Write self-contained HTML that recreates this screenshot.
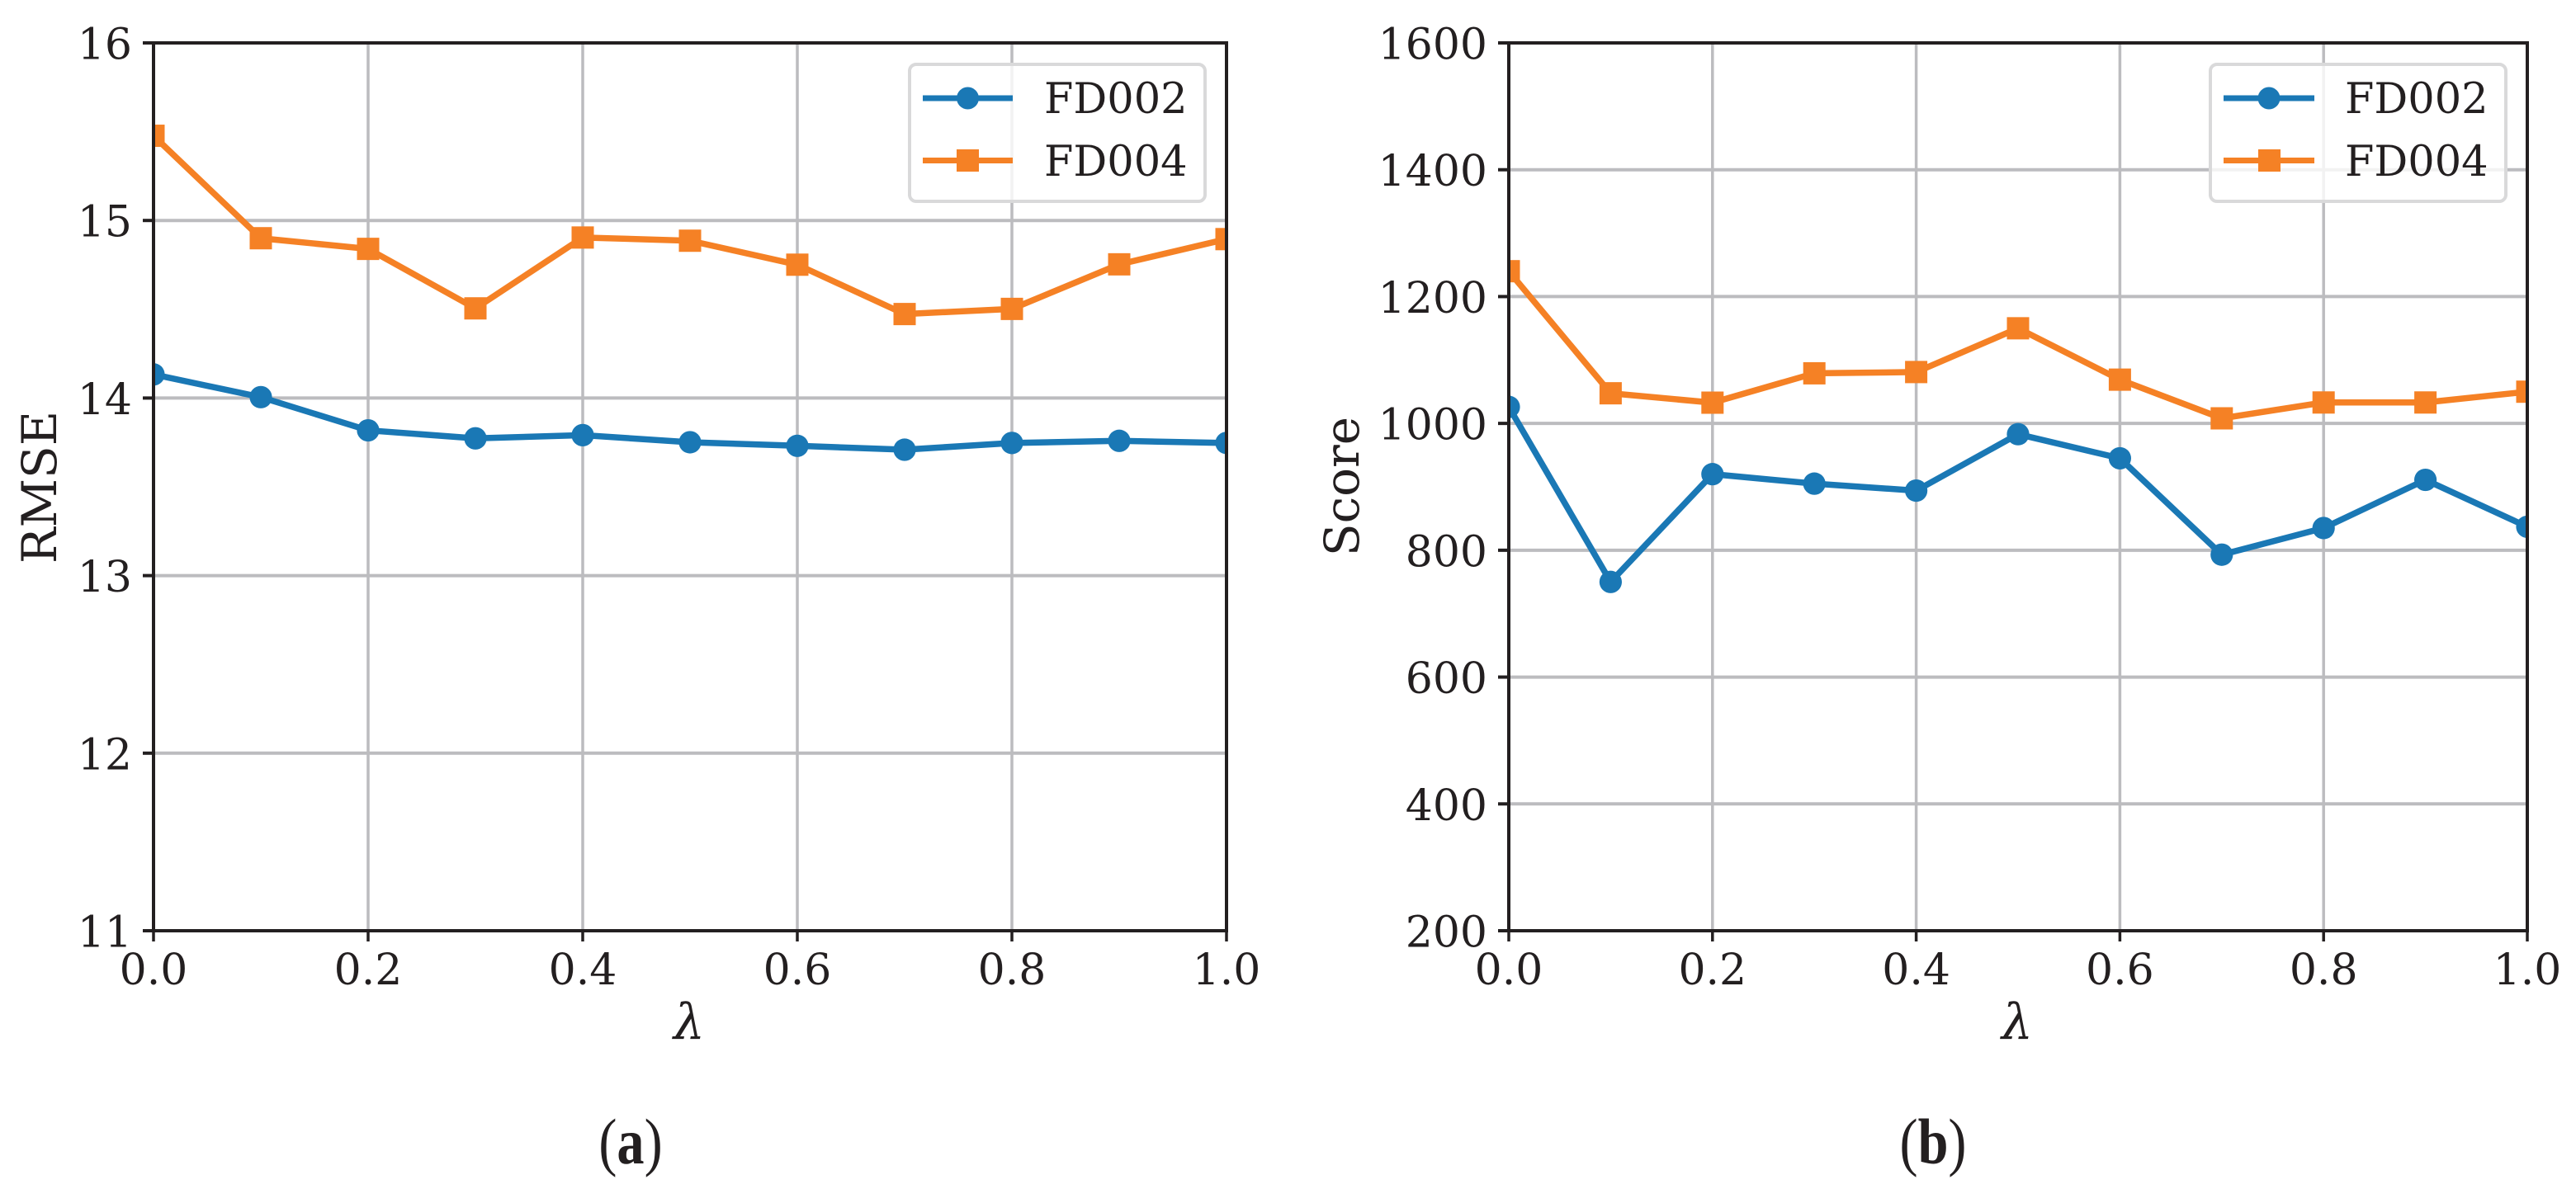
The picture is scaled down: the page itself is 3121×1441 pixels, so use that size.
<!DOCTYPE html>
<html lang="en">
<head>
<meta charset="utf-8">
<title>RMSE and Score versus lambda</title>
<style>
  html, body { margin: 0; padding: 0; background: #fff; }
  svg { display: block; }
  text { fill: #231f20; font-family: "DejaVu Serif", "Liberation Serif", serif; }
  .tick { font-size: 52px; }
  .legend-text { font-size: 51px; }
  .title { font-size: 58px; }
  .lambda { font-size: 60px; font-style: italic; }
  .caption { font-family: "Liberation Serif", serif; font-size: 78px; }
</style>
</head>
<body>
<svg id="figure" xmlns="http://www.w3.org/2000/svg" width="3121" height="1441" viewBox="0 0 3121 1441">
  <defs>
    <clipPath id="clip-a"><rect x="186" y="52" width="1300" height="1076"/></clipPath>
    <clipPath id="clip-b"><rect x="1828" y="52" width="1234" height="1076"/></clipPath>
  </defs>
  <rect width="3121" height="1441" fill="#fff"/>

  <g id="panel-a"></g>
  <g id="panel-b"></g>

  <g>
    <rect x="1102" y="78" width="358" height="166" rx="8" fill="#fff" fill-opacity="0.8" stroke="#d9d9da" stroke-width="4"/>
    <line x1="1118" y1="119" x2="1227" y2="119" stroke="#1a78b5" stroke-width="7"/>
    <circle cx="1172.5" cy="119" r="13.5" fill="#1a78b5"/>
    <text class="legend-text" x="1265" y="137">FD002</text>
    <line x1="1118" y1="194.5" x2="1227" y2="194.5" stroke="#f58125" stroke-width="7"/>
    <rect x="1159" y="181" width="27" height="27" fill="#f58125"/>
    <text class="legend-text" x="1265" y="213">FD004</text>
  </g>

  <g>
    <rect x="2678" y="78" width="358" height="166" rx="8" fill="#fff" fill-opacity="0.8" stroke="#d9d9da" stroke-width="4"/>
    <line x1="2694" y1="119" x2="2804" y2="119" stroke="#1a78b5" stroke-width="7"/>
    <circle cx="2749" cy="119" r="13.5" fill="#1a78b5"/>
    <text class="legend-text" x="2841" y="137">FD002</text>
    <line x1="2694" y1="194.5" x2="2804" y2="194.5" stroke="#f58125" stroke-width="7"/>
    <rect x="2736" y="181" width="27" height="27" fill="#f58125"/>
    <text class="legend-text" x="2841" y="213">FD004</text>
  </g>

  <text class="title" text-anchor="middle" transform="translate(68 590.5) rotate(-90)">RMSE</text>
  <text class="title" text-anchor="middle" transform="translate(1646 589.5) rotate(-90)">Score</text>
  <text class="lambda" x="835" y="1259" text-anchor="middle">λ</text>
  <text class="lambda" x="2444" y="1259" text-anchor="middle">λ</text>
  <text class="caption" text-anchor="middle" transform="translate(764 1410) scale(0.85 1)">(<tspan font-weight="bold">a</tspan>)</text>
  <text class="caption" text-anchor="middle" transform="translate(2342 1410) scale(0.85 1)">(<tspan font-weight="bold">b</tspan>)</text>
</svg>

<script>
const lambdas = [0.0, 0.1, 0.2, 0.3, 0.4, 0.5, 0.6, 0.7, 0.8, 0.9, 1.0];
const xTickValues = [0.0, 0.2, 0.4, 0.6, 0.8, 1.0];
const xTickLabels = ["0.0", "0.2", "0.4", "0.6", "0.8", "1.0"];
const rmseTickValues = [11, 12, 13, 14, 15, 16];
const rmseTickLabels = ["11", "12", "13", "14", "15", "16"];
const scoreTickValues = [200, 400, 600, 800, 1000, 1200, 1400, 1600];
const scoreTickLabels = ["200", "400", "600", "800", "1000", "1200", "1400", "1600"];
const rmseFD002 = [14.133, 14.005, 13.818, 13.773, 13.791, 13.751, 13.731, 13.709, 13.747, 13.759, 13.747];
const rmseFD004 = [15.477, 14.90, 14.84, 14.505, 14.904, 14.886, 14.751, 14.473, 14.502, 14.753, 14.895];
const scoreFD002 = [1026, 750, 920, 905, 894, 983, 945, 793, 835, 911, 837];
const scoreFD004 = [1240, 1047.5, 1032.7, 1079, 1081, 1150, 1069, 1008, 1033, 1033, 1050];

const SVG_NS = "http://www.w3.org/2000/svg";
const INK = "#231f20";
const GRID = "#bcbcbf";
const BLUE = "#1a78b5";
const ORANGE = "#f58125";

function make(parent, tag, attrs) {
  const node = document.createElementNS(SVG_NS, tag);
  for (const key in attrs) node.setAttribute(key, attrs[key]);
  parent.appendChild(node);
  return node;
}

function drawPanel(cfg) {
  const root = document.getElementById(cfg.id);
  const xScale = v => cfg.left + (v - 0) / (1 - 0) * (cfg.right - cfg.left);
  const yScale = v => cfg.bottom - (v - cfg.yMin) / (cfg.yMax - cfg.yMin) * (cfg.bottom - cfg.top);

  // Grid lines
  cfg.yTicks.forEach(function (v) {
    if (v === cfg.yMin || v === cfg.yMax) return;
    const g = make(root, "line", { x1: cfg.left, x2: cfg.right, y1: yScale(v), y2: yScale(v), stroke: GRID, "stroke-width": 4 });
    
    
  });
  xTickValues.forEach(function (v) {
    if (v === 0 || v === 1) return;
    const g = make(root, "line", { x1: xScale(v), x2: xScale(v), y1: cfg.top, y2: cfg.bottom, stroke: GRID, "stroke-width": 3.5 });
    
    
  });

  // Series
  const plot = make(root, "g", { "clip-path": "url(#" + cfg.clip + ")" });
  
  

  cfg.series.forEach(function (s) {
    const pts = lambdas.map((x, i) => xScale(x).toFixed(2) + "," + yScale(s.values[i]).toFixed(2)).join(" ");
    const line = make(plot, "polyline", { points: pts, fill: "none", stroke: s.color, "stroke-width": 7.5, "stroke-linejoin": "round" });
    
    
    lambdas.forEach(function (x, i) {
      const px = xScale(x);
      const py = yScale(s.values[i]);
      let mark;
      if (s.marker === "circle") {
        mark = make(plot, "circle", { cx: px, cy: py, r: 13.6, fill: s.color });
      } else {
        mark = make(plot, "rect", { x: px - 13.5, y: py - 13.5, width: 27, height: 27, fill: s.color });
      }
      
      
    });
  });

  // Ticks and tick labels
  cfg.yTicks.forEach(function (v, i) {
    const t = make(root, "line", { x1: cfg.left - 13, x2: cfg.left, y1: yScale(v), y2: yScale(v), stroke: INK, "stroke-width": 4 });
    
    
    const label = make(root, "text", { class: "tick", x: cfg.left - 26, y: yScale(v) + 19.5, "text-anchor": "end" });
    label.textContent = cfg.yLabels[i];
    
    
  });
  xTickValues.forEach(function (v, i) {
    const t = make(root, "line", { x1: xScale(v), x2: xScale(v), y1: cfg.bottom, y2: cfg.bottom + 13, stroke: INK, "stroke-width": 3.5 });
    
    
    const label = make(root, "text", { class: "tick", x: xScale(v), y: 1193, "text-anchor": "middle" });
    label.textContent = xTickLabels[i];
    
    
  });

  // Axes frame
  const frame = make(root, "rect", { x: cfg.left, y: cfg.top, width: cfg.right - cfg.left, height: cfg.bottom - cfg.top, fill: "none", stroke: INK, "stroke-width": 4 });
  
  
}

drawPanel({
  id: "panel-a", clip: "clip-a",
  left: 186, right: 1486, top: 52, bottom: 1128,
  yMin: 11, yMax: 16,
  yTicks: rmseTickValues, yLabels: rmseTickLabels,
  series: [
    { name: "fd002", values: rmseFD002, color: BLUE, marker: "circle" },
    { name: "fd004", values: rmseFD004, color: ORANGE, marker: "square" }
  ]
});

drawPanel({
  id: "panel-b", clip: "clip-b",
  left: 1828, right: 3062, top: 52, bottom: 1128,
  yMin: 200, yMax: 1600,
  yTicks: scoreTickValues, yLabels: scoreTickLabels,
  series: [
    { name: "fd002", values: scoreFD002, color: BLUE, marker: "circle" },
    { name: "fd004", values: scoreFD004, color: ORANGE, marker: "square" }
  ]
});
</script>
</body>
</html>
